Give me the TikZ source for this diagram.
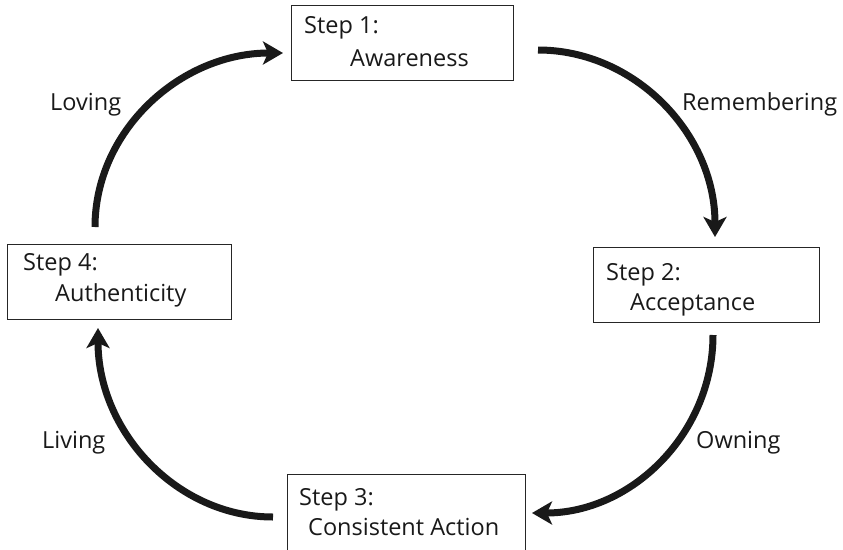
\documentclass[tikz,border=0pt]{standalone}
\usepackage{fontspec}
\setmainfont{Open Sans}
\usetikzlibrary{arrows.meta}
\begin{document}
\begin{tikzpicture}[x=1pt,y=-1pt,
  box/.style={draw=black!85, line width=0.9pt, inner sep=0pt, minimum height=75pt},
  lbl/.style={anchor=base west, inner sep=0pt, font=\fontsize{23.5}{28}\selectfont, text=black!90},
  flow/.style={line width=7pt, draw=black!90, -{Stealth[length=20pt,width=23pt,inset=5pt]}}]
\clip (0,0) rectangle (843,549);
% boxes
\node[box, minimum width=222pt] (b1) at (402,42.5) {};
\node[box, minimum width=226pt] (b2) at (706,285) {};
\node[box, minimum width=238pt, minimum height=76pt] (b3) at (406.5,512) {};
\node[box, minimum width=224pt] (b4) at (119,281.5) {};
% box texts
\node[lbl] (t1a) at (304,33) {Step 1:};
\node[lbl] (t1b) at (350,66) {Awareness};
\node[lbl] (t2a) at (606,280) {Step 2:};
\node[lbl] (t2b) at (630,310) {Acceptance};
\node[lbl] (t3a) at (299,505) {Step 3:};
\node[lbl] (t3b) at (308,535) {Consistent Action};
\node[lbl] (t4a) at (23,270) {Step 4:};
\node[lbl] (t4b) at (55,301) {Authenticity};
% arc labels
\node[lbl] (l1) at (50,110) {Loving};
\node[lbl] (l2) at (682,110) {Remembering};
\node[lbl] (l3) at (696,448) {Owning};
\node[lbl] (l4) at (42,448) {Living};
% arc end points
\coordinate (a1s) at (538,50);  \coordinate (a1e) at (715,237);
\coordinate (a2s) at (713,335); \coordinate (a2e) at (532,513);
\coordinate (a3s) at (273,517); \coordinate (a3e) at (98,328);
\coordinate (a4s) at (95,227);  \coordinate (a4e) at (283,53);
% arcs
\draw[flow] (a1s) .. controls (635,50) and (715,134) .. (a1e);
\draw[flow] (a2s) .. controls (713,433) and (632,513) .. (a2e);
\draw[flow] (a3s) .. controls (177,517) and (98,432) .. (a3e);
\draw[flow] (a4s) .. controls (95,131) and (180,53) .. (a4e);
\end{tikzpicture}
\end{document}
